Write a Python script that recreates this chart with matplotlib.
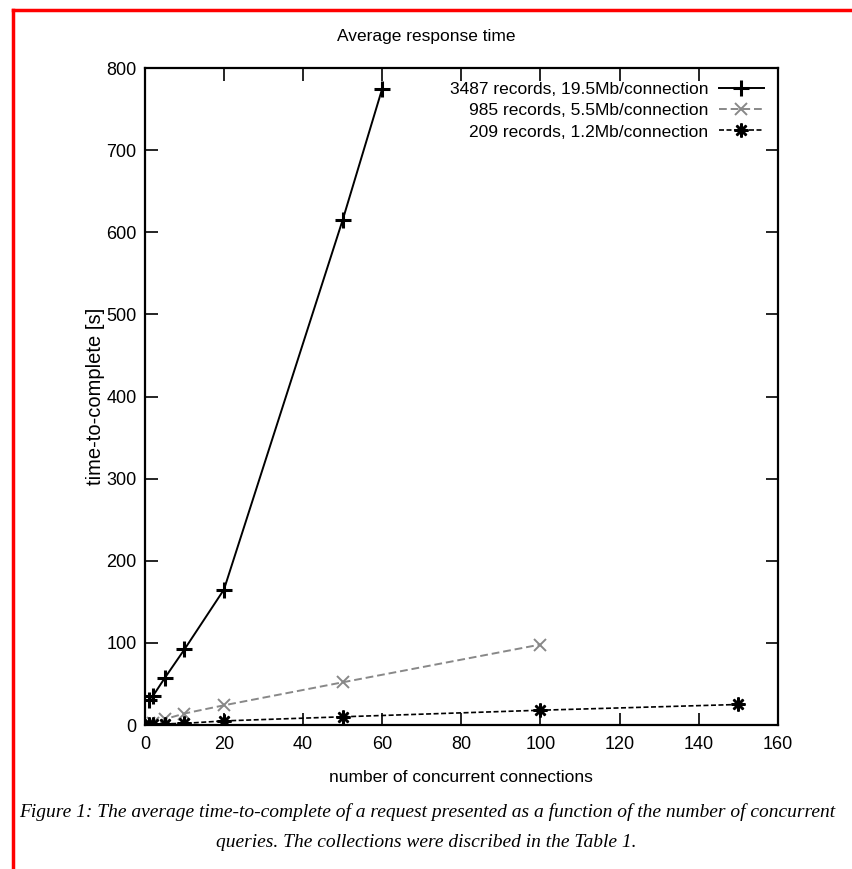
import matplotlib
matplotlib.use("Agg")
import matplotlib.pyplot as plt
from matplotlib.lines import Line2D

# 3487 records, 19.5Mb/connection
conn_big = [1, 2, 5, 10, 20, 50, 60]
time_big = [31, 35, 57, 92, 165, 615, 775]

# 985 records, 5.5Mb/connection
conn_mid = [1, 2, 5, 10, 20, 50, 100]
time_mid = [2, 3, 7, 14, 24, 52, 98]

# 209 records, 1.2Mb/connection
conn_small = [1, 2, 5, 10, 20, 50, 100, 150]
time_small = [1, 1, 1.5, 2, 5, 10, 18, 25]

labels = ["3487 records, 19.5Mb/connection",
          "985 records, 5.5Mb/connection",
          "209 records, 1.2Mb/connection"]

narrow = ["Liberation Sans Narrow", "Liberation Sans", "DejaVu Sans"]

fig = plt.figure(figsize=(8.52, 8.69), dpi=100)
ax = fig.add_axes([0.170, 0.1657, 0.743, 0.756])

ax.plot(conn_big, time_big, color="black", lw=1.4, marker="+",
        ms=11, mew=2.2, label=labels[0])
ax.plot(conn_mid, time_mid, color="#888888", lw=1.4, ls=(0, (4, 2)),
        marker="x", ms=9, mew=1.4, label=labels[1])
ax.plot(conn_small, time_small, color="black", lw=1.2, ls=(0, (3, 1.5)),
        marker=(8, 2, 0), ms=10, mew=1.8, label=labels[2])

ax.set_xlim(0, 160)
ax.set_ylim(0, 800)
ax.set_xticks(range(0, 161, 20))
ax.set_yticks(range(0, 801, 100))
ax.tick_params(direction="in", length=9, width=1.2, top=True, right=True,
               labelsize=13)
ax.tick_params(axis="x", pad=8)
ax.tick_params(axis="y", pad=6)
for lab in ax.get_xticklabels() + ax.get_yticklabels():
    lab.set_family(narrow)
for sp in ax.spines.values():
    sp.set_linewidth(1.6)

ax.set_xlabel("number of concurrent connections", family=narrow,
              fontsize=12.5, labelpad=12)
ax.set_ylabel("time-to-complete [s]", family="Liberation Sans",
              fontsize=14.5, labelpad=1)
fig.text(0.5, 0.958, "Average response time", family=narrow,
         fontsize=12.5, ha="center", va="center")

leg = ax.legend(loc="upper right", frameon=False, markerfirst=False,
                handlelength=2.6, handletextpad=0.6, labelspacing=0.35,
                borderaxespad=0.4, prop={"family": narrow, "size": 12.5})

fig.text(0.022, 0.066, "Figure 1: The average time-to-complete of a request "
         "presented as a function of the number of concurrent",
         family="Liberation Serif", style="italic", fontsize=14,
         ha="left", va="center")
fig.text(0.5, 0.030, "queries. The collections were discribed in the Table 1.",
         family="Liberation Serif", style="italic", fontsize=14,
         ha="center", va="center")

# red frame of the page clip
fig.add_artist(Line2D([0.015, 1.0], [0.989, 0.989], color="red", lw=2.5,
                      transform=fig.transFigure))
fig.add_artist(Line2D([0.015, 0.015], [0.0, 0.989], color="red", lw=2.5,
                      transform=fig.transFigure))

fig.savefig("out.png", dpi=100)
